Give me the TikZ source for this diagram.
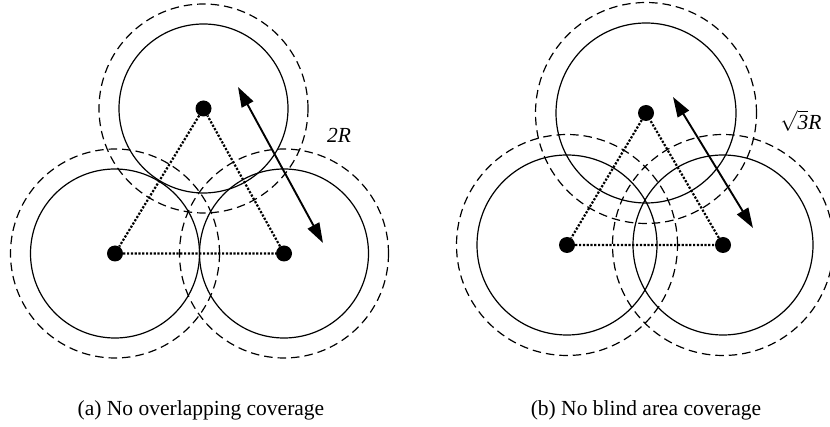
\documentclass[tikz,border=0pt]{standalone}
\usepackage{fontspec}
\setmainfont{Liberation Serif}
\usetikzlibrary{arrows.meta}

\tikzset{
    sensor/.style={circle, fill=black, inner sep=0pt, minimum size=16pt},
    inner range/.style={line width=1.2pt},
    outer range/.style={line width=1.2pt, dash pattern=on 8.5pt off 5pt},
    link/.style={line width=2.2pt, dash pattern=on 2.2pt off 1.6pt},
    span/.style={line width=1.9pt, {Triangle[length=20pt,width=13pt]}-{Triangle[length=20pt,width=13pt]}},
    caption/.style={font=\fontsize{21.5}{25}\selectfont},
    dist label/.style={font=\fontsize{21.5}{25}\selectfont\itshape},
}

\begin{document}
\begin{tikzpicture}[x=1pt, y=-1pt]
    \useasboundingbox (0,0) rectangle (830,427);

    % (a) sensors
    \node[sensor] (a1) at (203.5,108.5) {};
    \node[sensor] (a2) at (115,253.5) {};
    \node[sensor] (a3) at (284,253.5) {};

    % (a) ranges
    \foreach \s in {a1,a2,a3} {
        \draw[inner range] (\s) circle (84.5pt);
        \draw[outer range] (\s) circle (104.5pt);
    }
    \draw[link] (a1) -- (a2) -- (a3) -- (a1);

    % (a) distance
    \coordinate (a-from) at (238,87);
    \coordinate (a-to) at (323,243);
    \draw[span] (a-from) -- (a-to);
    \node[dist label] (a-dist) at (339,135) {2R};

    % (b) sensors
    \node[sensor] (b1) at (646,113) {};
    \node[sensor] (b2) at (567,245) {};
    \node[sensor] (b3) at (723,245) {};

    % (b) ranges
    \foreach \s in {b1,b2,b3} {
        \draw[inner range] (\s) circle (90pt);
        \draw[outer range] (\s) circle (110.5pt);
    }
    \draw[link] (b1) -- (b2) -- (b3) -- (b1);

    % (b) distance
    \coordinate (b-from) at (673,97);
    \coordinate (b-to) at (753,228);
    \draw[span] (b-from) -- (b-to);
    \node[dist label] (b-dist) at (801,121) {$\sqrt{\textit{3}}$R};

    % Captions
    \node[caption] (a-cap) at (201,410) {(a) No overlapping coverage};
    \node[caption] (b-cap) at (646,410) {(b) No blind area coverage};
\end{tikzpicture}
\end{document}
